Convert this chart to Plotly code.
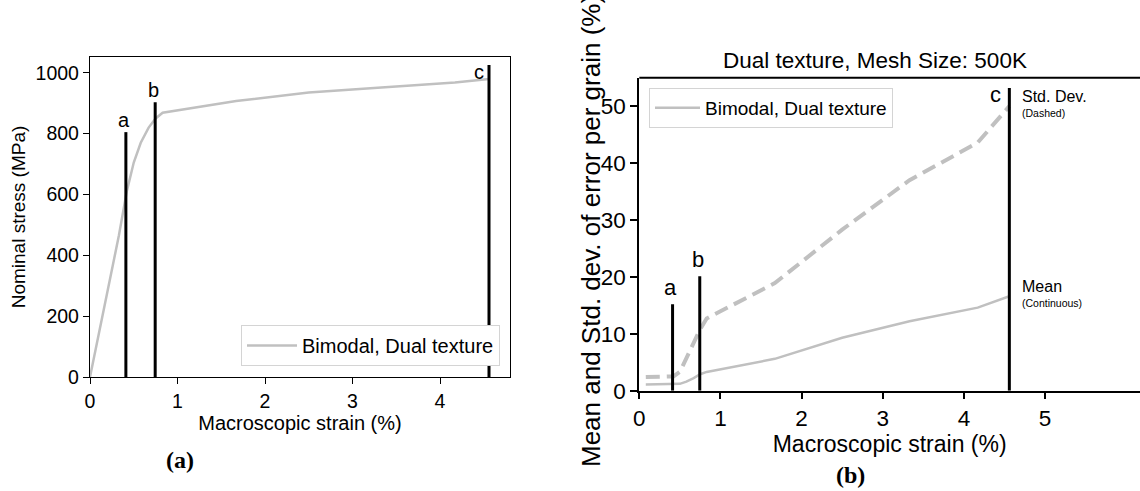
import plotly.graph_objects as go

# ---------------- data ----------------
strain_a = [0, 0.08, 0.17, 0.25, 0.33, 0.42, 0.5, 0.58, 0.67, 0.75, 0.83, 1.67, 2.5, 3.33, 4.17, 4.56]
stress = [0, 112, 238, 350, 465, 610, 705, 770, 820, 850, 869, 907, 935, 952, 968, 980]

strain_b = [0.08, 0.17, 0.25, 0.33, 0.42, 0.5, 0.58, 0.67, 0.75, 0.83, 1.67, 2.5, 3.33, 4.17, 4.56]
mean_err = [1.1, 1.1, 1.1, 1.1, 1.1, 1.2, 1.6, 2.2, 2.9, 3.3, 5.6, 9.3, 12.2, 14.6, 16.6]
std_err = [2.4, 2.4, 2.4, 2.4, 2.5, 3.3, 5.8, 8.3, 10.8, 12.7, 18.9, 28.3, 37.0, 43.6, 50.0]

mark_labels = ["a", "b", "c"]
mark_x = [0.41, 0.745, 4.56]
mark_top_a = [805, 903, 1026]
mark_top_b = [15.2, 20.1, 53.2]

series_name = "Bimodal, Dual texture"
title_b = "Dual texture, Mesh Size: 500K"
ytitle_b = "Mean and Std. dev. of error per grain (%)"

W, H = 1140, 491
FONT = "Liberation Sans, Arial, sans-serif"
SERIF = "Liberation Serif, Times New Roman, serif"
GRAY = "#c0c0c0"


def px_x(p):
    return p / W


def px_y(p):
    return (H - p) / H


fig = go.Figure()

# left panel curve
fig.add_trace(go.Scatter(x=strain_a, y=stress, mode="lines", name=series_name,
                         line=dict(color=GRAY, width=2.5), xaxis="x", yaxis="y",
                         legend="legend"))
# right panel curves
fig.add_trace(go.Scatter(x=strain_b, y=std_err, mode="lines", showlegend=False,
                         line=dict(color=GRAY, width=4, dash="14px,7px"),
                         xaxis="x2", yaxis="y2"))
fig.add_trace(go.Scatter(x=strain_b, y=mean_err, mode="lines", name=series_name,
                         line=dict(color=GRAY, width=2.5), xaxis="x2", yaxis="y2",
                         legend="legend2"))

# vertical marker lines
for lab, xv, ha, hb in zip(mark_labels, mark_x, mark_top_a, mark_top_b):
    fig.add_trace(go.Scatter(x=[xv, xv], y=[0, ha], mode="lines", showlegend=False,
                             line=dict(color="black", width=3), xaxis="x", yaxis="y"))
    fig.add_trace(go.Scatter(x=[xv, xv], y=[0, hb], mode="lines", showlegend=False,
                             line=dict(color="black", width=3), xaxis="x2", yaxis="y2"))

annotations = []
for lab, xv, ha, hb in zip(mark_labels, mark_x, mark_top_a, mark_top_b):
    if lab == "c":
        annotations.append(dict(x=xv, y=ha, xref="x", yref="y", text=lab, showarrow=False,
                                xanchor="right", yanchor="top", xshift=-3, yshift=6,
                                font=dict(family=FONT, size=20, color="black")))
        annotations.append(dict(x=xv, y=hb, xref="x2", yref="y2", text=lab, showarrow=False,
                                xanchor="right", yanchor="top", xshift=-6, yshift=8,
                                font=dict(family=FONT, size=22, color="black")))
    else:
        annotations.append(dict(x=xv, y=ha, xref="x", yref="y", text=lab, showarrow=False,
                                xanchor="center", yanchor="bottom", xshift=-2, yshift=-1,
                                font=dict(family=FONT, size=20, color="black")))
        annotations.append(dict(x=xv, y=hb, xref="x2", yref="y2", text=lab, showarrow=False,
                                xanchor="center", yanchor="bottom", xshift=-2, yshift=2,
                                font=dict(family=FONT, size=22, color="black")))

# right side notes
end_std = std_err[-1]
end_mean = mean_err[-1]
annotations += [
    dict(x=mark_x[2], y=end_std, xref="x2", yref="y2", text="Std. Dev.", showarrow=False,
         xanchor="left", yanchor="bottom", xshift=11, yshift=-1,
         font=dict(family=FONT, size=16, color="black")),
    dict(x=mark_x[2], y=end_std, xref="x2", yref="y2", text="(Dashed)", showarrow=False,
         xanchor="left", yanchor="top", xshift=11, yshift=1,
         font=dict(family=FONT, size=10.5, color="black")),
    dict(x=mark_x[2], y=end_mean, xref="x2", yref="y2", text="Mean", showarrow=False,
         xanchor="left", yanchor="bottom", xshift=11, yshift=-1,
         font=dict(family=FONT, size=16, color="black")),
    dict(x=mark_x[2], y=end_mean, xref="x2", yref="y2", text="(Continuous)", showarrow=False,
         xanchor="left", yanchor="top", xshift=11, yshift=1,
         font=dict(family=FONT, size=10.5, color="black")),
    dict(x=px_x(180), y=px_y(460), xref="paper", yref="paper", text="<b>(a)</b>",
         showarrow=False, xanchor="center", yanchor="middle",
         font=dict(family=SERIF, size=24, color="black")),
    dict(x=px_x(850), y=px_y(475), xref="paper", yref="paper", text="<b>(b)</b>",
         showarrow=False, xanchor="center", yanchor="middle",
         font=dict(family=SERIF, size=24, color="black")),
    dict(x=px_x(875), y=px_y(61), xref="paper", yref="paper", text=title_b,
         showarrow=False, xanchor="center", yanchor="middle",
         font=dict(family=FONT, size=22.5, color="black")),
    dict(x=px_x(591), y=px_y(231), xref="paper", yref="paper", text=ytitle_b,
         showarrow=False, xanchor="center", yanchor="middle", textangle=-90,
         font=dict(family=FONT, size=26, color="black")),
]

ax_common = dict(showgrid=False, zeroline=False, showline=True, linecolor="black",
                 ticks="outside", tickcolor="black", automargin=False)

fig.update_layout(
    width=W, height=H,
    margin=dict(l=0, r=0, t=0, b=0),
    paper_bgcolor="white", plot_bgcolor="white",
    font=dict(family=FONT, color="black"),
    xaxis=dict(**ax_common, domain=[px_x(90), px_x(510)], range=[0, 4.8], mirror=True,
               linewidth=1.3, ticklen=6, tickwidth=1.3, tickvals=[0, 1, 2, 3, 4],
               tickfont=dict(size=19.5),
               title=dict(text="Macroscopic strain (%)", font=dict(size=20), standoff=3),
               anchor="y"),
    yaxis=dict(**ax_common, domain=[px_y(377), px_y(57)], range=[0, 1052], mirror=True,
               linewidth=1.3, ticklen=6, tickwidth=1.3,
               tickvals=[0, 200, 400, 600, 800, 1000], tickfont=dict(size=19.5),
               title=dict(text="Nominal stress (MPa)", font=dict(size=19), standoff=4),
               anchor="x"),
    xaxis2=dict(**ax_common, domain=[px_x(639.3), 1.0], range=[0, 6.17],
                linewidth=2, ticklen=6, tickwidth=2, tickvals=[0, 1, 2, 3, 4, 5],
                tickfont=dict(size=22.5),
                title=dict(text="Macroscopic strain (%)", font=dict(size=23), standoff=0),
                anchor="y2"),
    yaxis2=dict(**ax_common, domain=[px_y(390.7), px_y(77.7)], range=[0, 55],
                linewidth=2, ticklen=7, tickwidth=2, tickvals=[0, 10, 20, 30, 40, 50],
                tickfont=dict(size=22.5), anchor="x2"),
    legend=dict(x=px_x(500), y=px_y(366), xanchor="right", yanchor="bottom",
                bgcolor="white", bordercolor="#d4d4d4", borderwidth=1, itemwidth=50,
                font=dict(size=20, family=FONT)),
    legend2=dict(x=px_x(649), y=px_y(88), xanchor="left", yanchor="top",
                 bgcolor="white", bordercolor="#d4d4d4", borderwidth=1, itemwidth=45,
                 font=dict(size=19, family=FONT)),
    annotations=annotations,
    shapes=[dict(type="line", xref="x2 domain", yref="y2 domain", x0=0, x1=1, y0=1, y1=1,
                 line=dict(color="black", width=2))],
    showlegend=True,
)

fig.write_html("out.html", config={"displayModeBar": False},
               post_script="document.body.style.margin='0';document.body.style.padding='0';")
